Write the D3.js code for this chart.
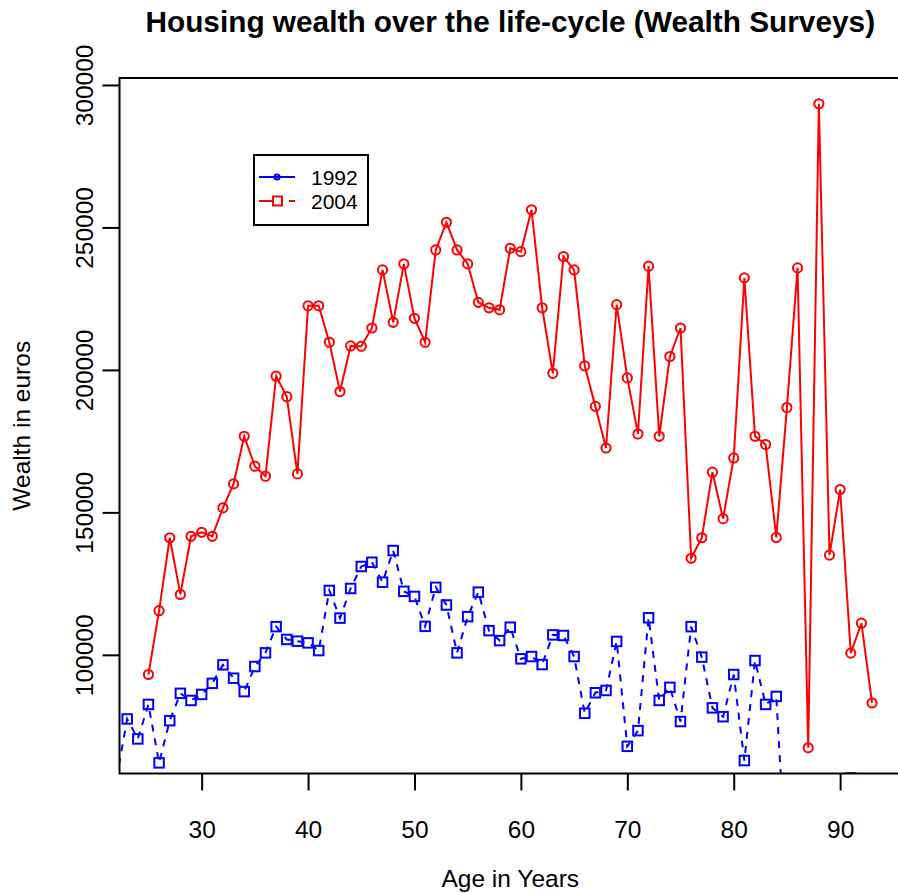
<!DOCTYPE html>
<html>
<head>
<meta charset="utf-8">
<script src="https://cdn.jsdelivr.net/npm/d3@7"></script>
<style>
  html, body { margin: 0; padding: 0; background: #fff; }
  svg { display: block; }
  text { font-family: "Liberation Sans", Arial, sans-serif; fill: #000; }
</style>
</head>
<body>
<div id="chart"></div>
<script>
// ---------------- data ----------------
const ages2004 = [25,26,27,28,29,30,31,32,33,34,35,36,37,38,39,40,41,42,43,44,45,46,47,48,49,
  50,51,52,53,54,55,56,57,58,59,60,61,62,63,64,65,66,67,68,69,70,71,72,73,74,75,76,77,78,79,
  80,81,82,83,84,85,86,87,88,89,90,91,92,93];
const wealth2004 = [93100,115500,141100,121200,141600,143000,141600,151600,160000,176700,166200,162700,
  197800,190600,163500,222500,222500,209700,192400,208400,208300,214700,235100,216700,237200,
  218100,209700,242100,251800,242100,237200,223700,221800,221100,242700,241500,256200,221800,
  198800,239800,235100,201400,187200,172600,222900,197200,177500,236400,176700,204700,214700,
  133900,141100,164100,147800,169100,232300,176700,173800,141200,186800,235800,67400,293400,
  135000,158000,100600,111100,83100];

const ages1992 = [22,23,24,25,26,27,28,29,30,31,32,33,34,35,36,37,38,39,40,41,42,43,44,45,46,47,48,49,
  50,51,52,53,54,55,56,57,58,59,60,61,62,63,64,65,66,67,68,69,70,71,72,73,74,75,76,77,78,79,
  80,81,82,83,84,85,86,87,88,89,90,91,92,93];
const wealth1992 = [56500,77500,70500,82600,62100,76900,86500,84000,86100,90000,96500,91800,87100,95900,
  100700,109900,105400,104800,104200,101500,122600,112900,123300,131000,132500,125500,136600,
  122300,120500,110000,123700,117500,100700,113400,122000,108500,105000,109700,98600,99400,
  96600,107000,106800,99400,79500,86700,87500,104700,67900,73400,113000,84000,88600,76600,
  109900,99200,81400,78300,93100,62900,98000,82600,85400,20000,null,null,null,null,null,56800,
  null,null];

const xTicks = [30,40,50,60,70,80,90];
const yTicks = [100000,150000,200000,250000,300000];
const legendLabels = ["1992","2004"];
const titleText = "Housing wealth over the life-cycle (Wealth Surveys)";
const xLabel = "Age in Years";
const yLabel = "Wealth in euros";

// ---------------- layout ----------------
const W = 898, H = 893;
const plot = {left: 119.5, right: 901, top: 78, bottom: 773.5};
const RED = "#ff0000", BLUE = "#0000ff";
const FONT = '"Liberation Sans", Arial, sans-serif';

// R-style 4% extension of the 2004 ranges
const xe = d3.extent(ages2004), xp = (xe[1]-xe[0])*0.04;
const ye = d3.extent(wealth2004), yp = (ye[1]-ye[0])*0.04;
const x = d3.scaleLinear().domain([xe[0]-xp, xe[1]+xp]).range([plot.left, plot.right]);
const y = d3.scaleLinear().domain([ye[0]-yp, ye[1]+yp]).range([plot.bottom, plot.top]);

const svg = d3.select("#chart").append("svg").attr("width", W).attr("height", H);

svg.append("defs").append("clipPath").attr("id","clip")
  .append("rect").attr("x", plot.left).attr("y", plot.top)
  .attr("width", plot.right-plot.left).attr("height", plot.bottom-plot.top);

const d1992 = ages1992.map((a,i)=>({a, v: wealth1992[i]}));
const d2004 = ages2004.map((a,i)=>({a, v: wealth2004[i]}));

const line = d3.line().defined(d => d.v != null).x(d => x(d.a)).y(d => y(d.v));

const g = svg.append("g").attr("clip-path","url(#clip)");

// 1992: blue dashed with squares
g.append("path").datum(d1992).attr("d", line)
  .attr("fill","none").attr("stroke", BLUE).attr("stroke-width", 2)
  .attr("stroke-dasharray","7,7");
const sq = 9.5;
g.selectAll("rect.p92").data(d1992.filter(d=>d.v!=null)).enter().append("rect")
  .attr("class","p92")
  .attr("x", d => x(d.a)-sq/2).attr("y", d => y(d.v)-sq/2)
  .attr("width", sq).attr("height", sq)
  .attr("fill","none").attr("stroke", BLUE).attr("stroke-width", 2);

// 2004: red solid with circles
g.append("path").datum(d2004).attr("d", line)
  .attr("fill","none").attr("stroke", RED).attr("stroke-width", 2);
g.selectAll("circle.p04").data(d2004).enter().append("circle")
  .attr("class","p04")
  .attr("cx", d => x(d.a)).attr("cy", d => y(d.v)).attr("r", 4.6)
  .attr("fill","none").attr("stroke", RED).attr("stroke-width", 2);

// box
svg.append("rect").attr("x", plot.left).attr("y", plot.top)
  .attr("width", plot.right-plot.left).attr("height", plot.bottom-plot.top)
  .attr("fill","none").attr("stroke","#000").attr("stroke-width", 2);

// axes
const fs = 24.5;
const xAxis = svg.append("g").attr("transform", `translate(0,${plot.bottom})`)
  .call(d3.axisBottom(x).tickValues(xTicks).tickSize(17).tickPadding(0).tickFormat(d3.format("d")));
xAxis.select(".domain").remove();
xAxis.selectAll("line").attr("stroke","#000").attr("stroke-width",2);
xAxis.selectAll("text").attr("y", 64).attr("dy", null)
  .style("font-size", fs+"px").style("font-family", FONT).attr("fill","#000");

const yAxis = svg.append("g").attr("transform", `translate(${plot.left},0)`)
  .call(d3.axisLeft(y).tickValues(yTicks).tickSize(17).tickFormat(d3.format("d")));
yAxis.select(".domain").remove();
yAxis.selectAll("line").attr("stroke","#000").attr("stroke-width",2);
yAxis.selectAll("text")
  .attr("transform","rotate(-90)")
  .attr("x", 0).attr("y", -27).attr("dy", null)
  .attr("text-anchor","middle")
  .style("font-size", fs+"px").style("font-family", FONT).attr("fill","#000");

// title & labels
svg.append("text").attr("x", (plot.left+plot.right)/2).attr("y", 32)
  .attr("text-anchor","middle").style("font-size","29.8px").style("font-weight","bold")
  .text(titleText);
svg.append("text").attr("x", (plot.left+plot.right)/2).attr("y", 887)
  .attr("text-anchor","middle").style("font-size", fs+"px").text(xLabel);
svg.append("text").attr("transform", `translate(30,${(plot.top+plot.bottom)/2}) rotate(-90)`)
  .attr("text-anchor","middle").style("font-size", fs+"px").text(yLabel);

// legend (as drawn in the reference)
const lg = svg.append("g");
lg.append("rect").attr("x",254).attr("y",155).attr("width",114).attr("height",70)
  .attr("fill","#fff").attr("stroke","#000").attr("stroke-width",2);
const ly = [177, 201];
lg.append("line").attr("x1",259).attr("x2",295).attr("y1",ly[0]).attr("y2",ly[0])
  .attr("stroke",BLUE).attr("stroke-width",2);
lg.append("circle").attr("cx",277).attr("cy",ly[0]).attr("r",2.6)
  .attr("fill","none").attr("stroke",BLUE).attr("stroke-width",2);
lg.append("line").attr("x1",259).attr("x2",295).attr("y1",ly[1]).attr("y2",ly[1])
  .attr("stroke",RED).attr("stroke-width",2).attr("stroke-dasharray","13,17");
lg.append("rect").attr("x",273).attr("y",ly[1]-4.5).attr("width",9).attr("height",9)
  .attr("fill","none").attr("stroke",RED).attr("stroke-width",2);
lg.selectAll("text.lt").data(legendLabels).enter().append("text").attr("class","lt")
  .attr("x",311).attr("y",(d,i)=>ly[i]+7.5).style("font-size","21px").text(d=>d);
</script>
</body>
</html>
